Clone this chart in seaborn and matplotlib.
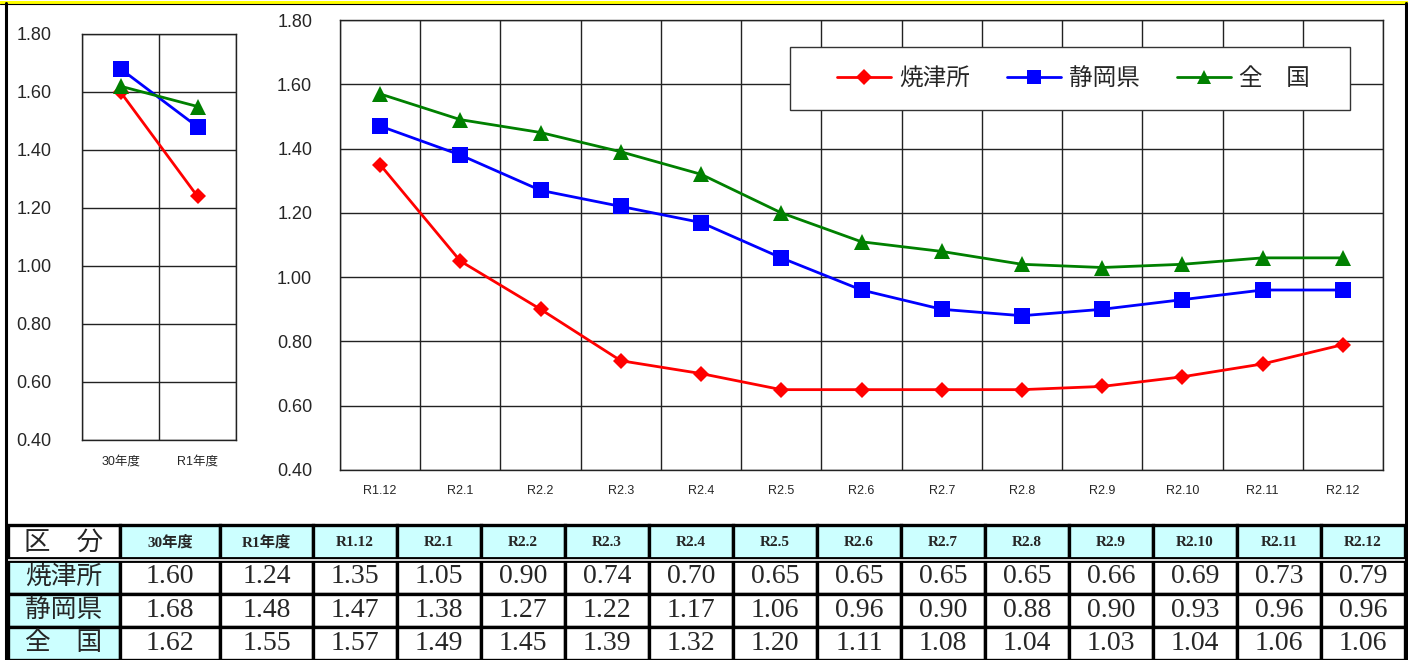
import numpy as np
import pandas as pd
import matplotlib
matplotlib.use("Agg")
import matplotlib.pyplot as plt
import seaborn as sns
from matplotlib.lines import Line2D
from matplotlib.patches import Rectangle

# ---- data ----
years = ["30年度", "R1年度"]
months = ["R1.12", "R2.1", "R2.2", "R2.3", "R2.4", "R2.5", "R2.6",
          "R2.7", "R2.8", "R2.9", "R2.10", "R2.11", "R2.12"]
series = ["焼津所", "静岡県", "全　国"]

yaizu_year = [1.60, 1.24]
shizuoka_year = [1.68, 1.48]
zenkoku_year = [1.62, 1.55]

yaizu_month = [1.35, 1.05, 0.90, 0.74, 0.70, 0.65, 0.65, 0.65, 0.65, 0.66, 0.69, 0.73, 0.79]
shizuoka_month = [1.47, 1.38, 1.27, 1.22, 1.17, 1.06, 0.96, 0.90, 0.88, 0.90, 0.93, 0.96, 0.96]
zenkoku_month = [1.57, 1.49, 1.45, 1.39, 1.32, 1.20, 1.11, 1.08, 1.04, 1.03, 1.04, 1.06, 1.06]

colors = {"焼津所": "#FF0000", "静岡県": "#0000FF", "全　国": "#008000"}
markers = {"焼津所": "D", "静岡県": "s", "全　国": "^"}
SANS = ["Liberation Sans", "Noto Sans CJK JP"]
SERIF = ["Liberation Serif", "Noto Sans CJK JP"]
CJK = ["Noto Sans CJK JP", "DejaVu Sans"]


def long_df(periods, vals):
    rows = []
    for s, v in zip(series, vals):
        for p, y in zip(periods, v):
            rows.append({"period": p, "series": s, "value": y})
    return pd.DataFrame(rows)


df_year = long_df(years, [yaizu_year, shizuoka_year, zenkoku_year])
df_month = long_df(months, [yaizu_month, shizuoka_month, zenkoku_month])

sns.set_style("white")
plt.rcParams["font.family"] = SANS

W, H = 1408, 660
fig = plt.figure(figsize=(W / 100, H / 100), dpi=100)


def px_axes(l, t, r, b):
    return fig.add_axes([l / W, 1 - b / H, (r - l) / W, (b - t) / H])


ax1 = px_axes(82, 34, 236, 440)
ax2 = px_axes(340, 20, 1383, 470)

line_kw = dict(x="period", y="value", hue="series", style="series",
               palette=colors, markers=markers, dashes=False, sort=False,
               linewidth=2, markersize=11, markeredgewidth=0)
sns.lineplot(data=df_year, ax=ax1, legend=False, **line_kw)
sns.lineplot(data=df_month, ax=ax2, legend=True, **line_kw)

# diamonds are drawn larger by matplotlib; shrink them a bit
for ax in (ax1, ax2):
    for ln in ax.get_lines():
        if ln.get_marker() == "D":
            ln.set_markersize(8)

for ax, cats, pad_y in ((ax1, years, 22), (ax2, months, 20)):
    n = len(cats)
    ax.set_xlim(-0.5, n - 0.5)
    ax.set_ylim(0.4, 1.8)
    ax.set_yticks(np.arange(0.4, 1.81, 0.2))
    ax.set_yticklabels([f"{v:.2f}" for v in np.arange(0.4, 1.81, 0.2)], fontsize=13)
    ax.set_xticks(range(n))
    ax.set_xticklabels(cats, fontsize=9)
    ax.set_xticks(np.arange(-0.5, n, 1.0), minor=True)
    ax.tick_params(axis="both", which="both", length=0)
    ax.tick_params(axis="y", pad=pad_y)
    ax.tick_params(axis="x", pad=11)
    ax.grid(False)
    ax.grid(True, which="minor", axis="x", color="#222222", linewidth=1)
    ax.grid(True, which="major", axis="y", color="#222222", linewidth=1)
    ax.set_axisbelow(True)
    for sp in ax.spines.values():
        sp.set_visible(True)
        sp.set_color("#222222")
        sp.set_linewidth(1)
    ax.set_xlabel("")
    ax.set_ylabel("")

# legend: box drawn separately so the inner padding can be uneven, as in the original
ax2.add_patch(Rectangle((0.4314, 0.80), 0.537, 0.14, transform=ax2.transAxes,
                        facecolor="white", edgecolor="#333333", linewidth=1,
                        zorder=4.5, clip_on=False))
handles, labels = ax2.get_legend_handles_labels()
for h in handles:
    if h.get_marker() == "D":
        h.set_markersize(8)
    else:
        h.set_markersize(10)
    h.set_markeredgewidth(0)
leg = ax2.legend(handles, labels, loc="center left",
                 bbox_to_anchor=(0.4765, 0.87, 0.4535, 0.0), mode="expand",
                 borderaxespad=0, borderpad=0, ncol=3, frameon=False,
                 prop={"family": CJK, "size": 17},
                 handlelength=2.3, columnspacing=1.5, handletextpad=0.35)
leg.set_zorder(5)

# ---- data table below the charts ----
axt = px_axes(8, 525, 1405, 660)
axt.axis("off")

col_labels = ["区　分"] + years + months
year_cols = [yaizu_year, shizuoka_year, zenkoku_year]
month_cols = [yaizu_month, shizuoka_month, zenkoku_month]
cell_text = [col_labels]
for s, yv, mv in zip(series, year_cols, month_cols):
    cell_text.append([s] + [f"{v:.2f}" for v in yv + mv])

CYAN = "#CCFFFF"
cell_colors = []
for r in range(len(cell_text)):
    row = []
    for c in range(len(col_labels)):
        if r == 0:
            row.append("white" if c == 0 else CYAN)
        else:
            row.append(CYAN if c == 0 else "white")
    cell_colors.append(row)

col_w = [112, 100, 93] + [84] * len(months)
row_h = [35, 33, 33, 33]
tbl = axt.table(cellText=cell_text, cellColours=cell_colors,
                bbox=[0, 0, 1, 1], cellLoc="center")
tbl.auto_set_font_size(False)
for (r, c), cell in tbl.get_celld().items():
    cell.set_width(col_w[c] / sum(col_w))
    cell.set_height(row_h[r] / sum(row_h))
    cell.set_linewidth(2.4)
    cell.set_edgecolor("black")
    txt = cell.get_text()
    if r == 0 and c == 0:
        txt.set_fontfamily(CJK)
        txt.set_fontsize(19)
    elif r == 0:
        txt.set_fontfamily(SERIF)
        txt.set_fontweight("bold")
        txt.set_fontsize(11)
    elif c == 0:
        txt.set_fontfamily(CJK)
        txt.set_fontsize(18.5)
    else:
        txt.set_fontfamily(SERIF)
        txt.set_fontsize(20)

# double rule under the header row
y_hdr = 1 - row_h[0] / sum(row_h)
axt.plot([0, 1], [y_hdr, y_hdr], color="black", linewidth=4.2,
         transform=axt.transAxes, zorder=10, clip_on=False,
         solid_capstyle="butt")
axt.plot([0, 1], [y_hdr, y_hdr], color="white", linewidth=1.2,
         transform=axt.transAxes, zorder=11, clip_on=False,
         solid_capstyle="butt")

# ---- frame around the whole sheet ----
fig.add_artist(Line2D([0, 1], [1 - 1.5 / H, 1 - 1.5 / H], color="#FFFF00",
                      linewidth=2.2, transform=fig.transFigure))
fig.add_artist(Line2D([0, 1], [1 - 3.5 / H, 1 - 3.5 / H], color="black",
                      linewidth=0.8, transform=fig.transFigure))
fig.add_artist(Line2D([5.5 / W, 5.5 / W], [0, 1 - 3 / H], color="black",
                      linewidth=2.2, transform=fig.transFigure))
fig.add_artist(Line2D([1405.5 / W, 1405.5 / W], [0, 1 - 3 / H], color="black",
                      linewidth=2.2, transform=fig.transFigure))

fig.savefig("out.png", dpi=100)
